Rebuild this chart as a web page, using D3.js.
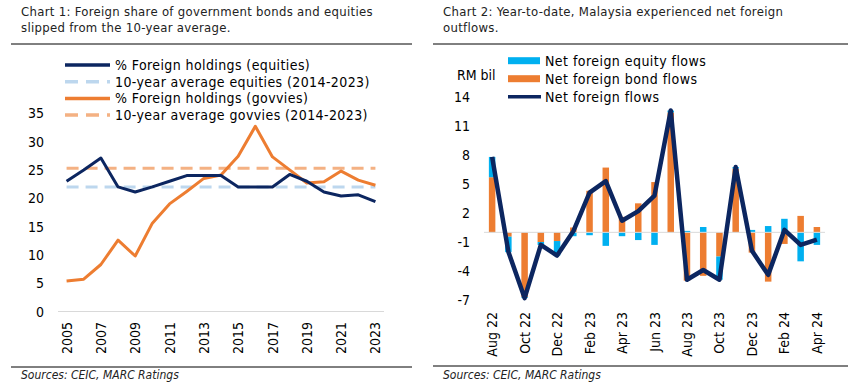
<!DOCTYPE html>
<html>
<head>
<meta charset="utf-8">
<script src="https://cdn.jsdelivr.net/npm/d3@7"></script>
<style>
  body { margin: 0; background: #fff; }
  svg { display: block; font-family: "DejaVu Sans Condensed", "DejaVu Sans", sans-serif; }
</style>
</head>
<body>
<svg id="graph" width="858" height="384"></svg>
<script>
var w = 858, h = 384;
var navy = "#0c2660", orange = "#ed7d31", lightBlue = "#bdd7ee", lightOrange = "#f4b183", cyan = "#00b0f0";

// chart 1 data
var years = ["2005","2006","2007","2008","2009","2010","2011","2012","2013","2014",
             "2015","2016","2017","2018","2019","2020","2021","2022","2023"];
var equities = [23.0, 25.0, 27.1, 22.0, 21.1, 22.0, 23.0, 24.0, 24.0, 24.0,
                22.0, 22.0, 22.0, 24.2, 23.0, 21.1, 20.4, 20.6, 19.4];
var govvies = [5.4, 5.7, 8.3, 12.6, 9.8, 15.6, 19.0, 21.2, 23.5, 24.1,
               27.4, 32.7, 27.3, 25.0, 22.7, 22.9, 24.8, 23.2, 22.3];
var avgEquities = [22.0];
var avgGovvies = [25.3];
var ticks1 = [0, 5, 10, 15, 20, 25, 30, 35];

// chart 2 data
var months = ["Aug 22","Sep 22","Oct 22","Nov 22","Dec 22","Jan 23","Feb 23","Mar 23","Apr 23","May 23",
              "Jun 23","Jul 23","Aug 23","Sep 23","Oct 23","Nov 23","Dec 23","Jan 24","Feb 24","Mar 24","Apr 24"];
var equityFlows = [2.1, -1.6, -0.1, -0.3, -1.5, -0.4, -0.3, -1.4, -0.4, -0.8,
                   -1.3, 0.2, 0.15, 0.55, -2.4, 0.15, 0.25, 0.65, 1.4, -3.0, -1.3];
var bondFlows = [5.7, -0.45, -6.7, -1.0, -0.9, 0.5, 4.3, 6.7, 1.6, 3.0,
                 5.2, 12.4, -5.0, -4.5, -2.5, 6.6, -2.1, -5.1, -1.2, 1.7, 0.55];
var netFlows = [7.8, -2.0, -6.8, -1.3, -2.4, 0.1, 4.1, 5.3, 1.2, 2.2,
                3.8, 12.6, -4.9, -3.9, -4.9, 6.75, -1.9, -4.4, 0.25, -1.3, -0.75];
var ticks2 = [-7, -4, -1, 2, 5, 8, 11, 14];
var monthLabels = ["Aug 22","Oct 22","Dec 22","Feb 23","Apr 23","Jun 23","Aug 23","Oct 23","Dec 23","Feb 24","Apr 24"];

var svg = d3.select("#graph");

// ---------- frames / titles ----------
function frame(x0, x1, textX, title, lineY) {
  svg.append("line").attr("x1", x0).attr("x2", x1).attr("y1", 44).attr("y2", 44)
     .attr("stroke", "#000").attr("stroke-width", 1);
  svg.append("line").attr("x1", x0).attr("x2", x1).attr("y1", lineY).attr("y2", lineY)
     .attr("stroke", "#000").attr("stroke-width", 1);
  var t = svg.append("text").attr("x", textX).attr("y", 15.5)
     .style("font-size", "13px").style("letter-spacing", "0.3px").attr("fill", "#222");
  title.forEach(function(s, i) {
    t.append("tspan").attr("x", textX).attr("dy", i == 0 ? 0 : 16.5).text(s);
  });
  svg.append("text").attr("x", textX).attr("y", 379)
     .style("font-size", "12px").style("font-style", "italic").attr("fill", "#222")
     .text("Sources: CEIC, MARC Ratings");
}
frame(11, 412, 21, ["Chart 1: Foreign share of government bonds and equities",
                    "slipped from the 10-year average."], 367);
frame(433, 848, 443, ["Chart 2: Year-to-date, Malaysia experienced net foreign",
                      "outflows."], 366);

// ---------- chart 1 ----------
var x1 = d3.scalePoint().domain(years).range([58, 384]).padding(0.5);
var y1 = d3.scaleLinear().domain([0, 35]).range([311.5, 113.3]);

svg.append("line").attr("x1", 58).attr("x2", 384).attr("y1", y1(0)).attr("y2", y1(0))
   .attr("stroke", "#d9d9d9").attr("stroke-width", 1);

svg.selectAll(".ytick1").data(ticks1).enter().append("text")
   .attr("class", "ytick1")
   .attr("x", 44).attr("y", function(d){ return y1(d); })
   .attr("dy", "0.36em").attr("text-anchor", "end")
   .style("font-size", "14px").text(function(d){ return d; });

svg.selectAll(".xtick1").data(years.filter(function(d, i){ return i % 2 == 0; }))
   .enter().append("text")
   .attr("class", "xtick1")
   .attr("transform", function(d){ return "translate(" + x1(d) + ",322) rotate(-90)"; })
   .attr("dy", "0.36em").attr("text-anchor", "end")
   .style("font-size", "14px").text(function(d){ return d; });

var line1 = d3.line().x(function(d, i){ return x1(years[i]); }).y(function(d){ return y1(d); });

svg.append("line").attr("x1", x1(years[0])).attr("x2", x1(years[years.length-1]))
   .attr("y1", y1(avgEquities[0])).attr("y2", y1(avgEquities[0]))
   .attr("stroke", lightBlue).attr("stroke-width", 3).attr("stroke-dasharray", "12,7");
svg.append("line").attr("x1", x1(years[0])).attr("x2", x1(years[years.length-1]))
   .attr("y1", y1(avgGovvies[0])).attr("y2", y1(avgGovvies[0]))
   .attr("stroke", lightOrange).attr("stroke-width", 3).attr("stroke-dasharray", "12,7");

svg.append("path").datum(govvies).attr("d", line1)
   .attr("fill", "none").attr("stroke", orange).attr("stroke-width", 3)
   .attr("stroke-linejoin", "round");
svg.append("path").datum(equities).attr("d", line1)
   .attr("fill", "none").attr("stroke", navy).attr("stroke-width", 3)
   .attr("stroke-linejoin", "round");

var legend1 = [
  {label: "% Foreign holdings (equities)", color: navy, dash: null},
  {label: "10-year average equities (2014-2023)", color: lightBlue, dash: "13,8"},
  {label: "% Foreign holdings (govvies)", color: orange, dash: null},
  {label: "10-year average govvies (2014-2023)", color: lightOrange, dash: "13,8"}
];
legend1.forEach(function(d, i) {
  var ly = 65 + i * 16.7;
  svg.append("line").attr("x1", 65).attr("x2", 110).attr("y1", ly).attr("y2", ly)
     .attr("stroke", d.color).attr("stroke-width", 3.5)
     .attr("stroke-dasharray", d.dash);
  svg.append("text").attr("x", 115).attr("y", ly).attr("dy", "0.36em")
     .style("font-size", "14px").style("letter-spacing", "0.4px").text(d.label);
});

// ---------- chart 2 ----------
var x2 = d3.scaleBand().domain(months).range([484, 825]).paddingInner(0.6).paddingOuter(0.3);
var y2 = d3.scaleLinear().domain([-7, 14]).range([300, 97]);

var rows = months.map(function(m, i){ return {month: m, bond: bondFlows[i], equity: equityFlows[i]}; });
var stack = d3.stack().keys(["bond", "equity"]).offset(d3.stackOffsetDiverging);
var series = stack(rows);
var barColors = {bond: orange, equity: cyan};

svg.selectAll(".series").data(series).enter().append("g")
   .attr("class", "series")
   .attr("fill", function(d){ return barColors[d.key]; })
   .selectAll("rect").data(function(d){ return d; }).enter().append("rect")
   .attr("x", function(d){ return x2(d.data.month); })
   .attr("width", x2.bandwidth())
   .attr("y", function(d){ return y2(Math.max(d[0], d[1])); })
   .attr("height", function(d){ return Math.abs(y2(d[0]) - y2(d[1])); });

svg.append("line").attr("x1", 484).attr("x2", 825).attr("y1", y2(0)).attr("y2", y2(0))
   .attr("stroke", "#d9d9d9").attr("stroke-width", 1);

var line2 = d3.line()
   .x(function(d, i){ return x2(months[i]) + x2.bandwidth() / 2; })
   .y(function(d){ return y2(d); });
svg.append("path").datum(netFlows).attr("d", line2)
   .attr("fill", "none").attr("stroke", navy).attr("stroke-width", 4.5)
   .attr("stroke-linejoin", "round");

svg.selectAll(".ytick2").data(ticks2).enter().append("text")
   .attr("class", "ytick2")
   .attr("x", 470).attr("y", function(d){ return y2(d); })
   .attr("dy", "0.36em").attr("text-anchor", "end")
   .style("font-size", "14px").text(function(d){ return d; });

svg.append("text").attr("x", 457).attr("y", 75).attr("dy", "0.36em")
   .style("font-size", "14px").text("RM bil");

svg.selectAll(".xtick2").data(monthLabels).enter().append("text")
   .attr("class", "xtick2")
   .attr("transform", function(d){ return "translate(" + (x2(d) + x2.bandwidth() / 2) + ",312) rotate(-90)"; })
   .attr("dy", "0.36em").attr("text-anchor", "end")
   .style("font-size", "14px").text(function(d){ return d; });

var legend2 = [
  {label: "Net foreign equity flows", color: cyan, type: "rect"},
  {label: "Net foreign bond flows", color: orange, type: "rect"},
  {label: "Net foreign flows", color: navy, type: "line"}
];
legend2.forEach(function(d, i) {
  var ly = 60.7 + i * 18;
  if (d.type == "rect") {
    svg.append("rect").attr("x", 508).attr("y", ly - 3.5).attr("width", 32).attr("height", 7)
       .attr("fill", d.color);
  } else {
    svg.append("line").attr("x1", 508).attr("x2", 541).attr("y1", ly).attr("y2", ly)
       .attr("stroke", d.color).attr("stroke-width", 3.5);
  }
  svg.append("text").attr("x", 545).attr("y", ly).attr("dy", "0.36em")
     .style("font-size", "14px").style("letter-spacing", "0.45px").text(d.label);
});
</script>
</body>
</html>
